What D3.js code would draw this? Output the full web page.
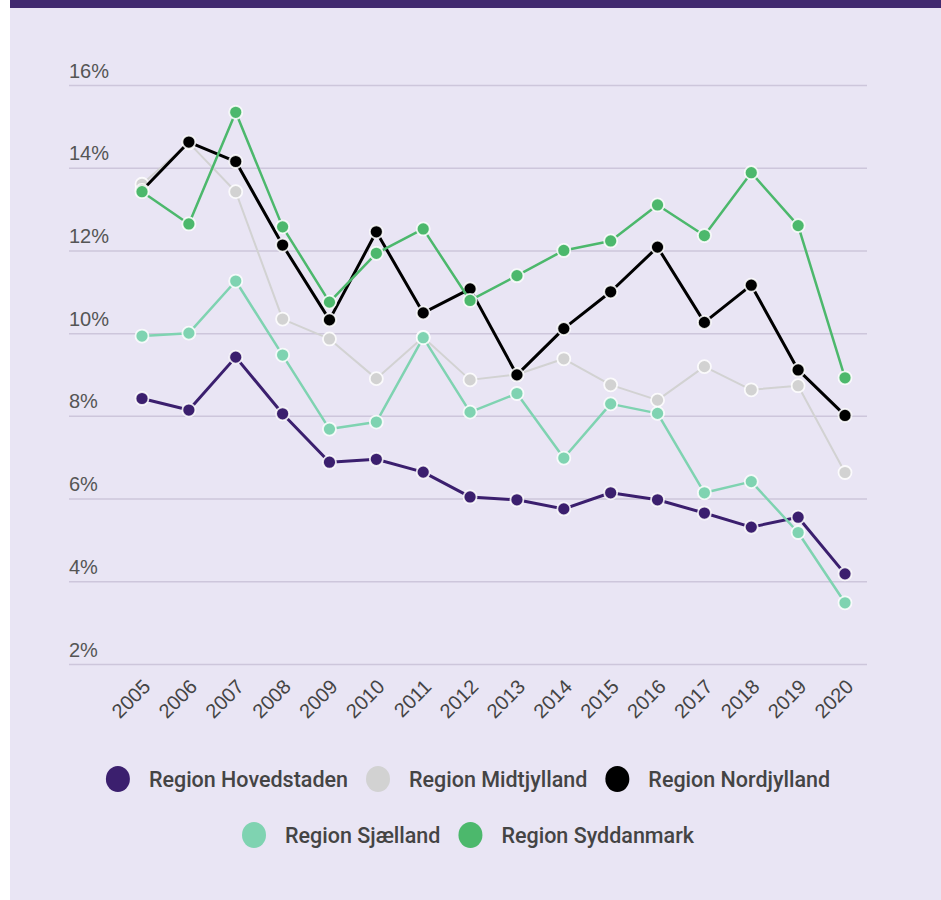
<!DOCTYPE html>
<html>
<head>
<meta charset="utf-8">
<script src="https://cdn.jsdelivr.net/npm/d3@7"></script>
<style>
  body { margin: 0; background: #fff; }
  svg { display: block; font-family: Roboto, "Noto Sans", sans-serif; }
</style>
</head>
<body>
<div id="chart"></div>
<script>
(function regions_line() {

  const years = ["2005", "2006", "2007", "2008", "2009", "2010", "2011", "2012",
    "2013", "2014", "2015", "2016", "2017", "2018", "2019", "2020"];

  const regions = ["Region Hovedstaden", "Region Midtjylland", "Region Nordjylland",
    "Region Sjælland", "Region Syddanmark"];

  const hovedstaden = [8.42, 8.14, 9.42, 8.05, 6.88, 6.95, 6.64, 6.04, 5.97, 5.75, 6.14, 5.97, 5.65, 5.31, 5.55, 4.18];
  const midtjylland = [13.6, 14.6, 13.42, 10.34, 9.86, 8.9, 9.9, 8.87, 9.0, 9.38, 8.75, 8.38, 9.19, 8.63, 8.73, 6.63];
  const nordjylland = [13.45, 14.62, 14.15, 12.13, 10.32, 12.45, 10.49, 11.07, 8.99, 10.11, 11.0, 12.08, 10.26, 11.16, 9.11, 8.01];
  const sjaelland = [9.93, 10.0, 11.26, 9.47, 7.68, 7.85, 9.89, 8.09, 8.54, 6.98, 8.29, 8.06, 6.14, 6.41, 5.18, 3.48];
  const syddanmark = [13.42, 12.64, 15.34, 12.57, 10.75, 11.93, 12.52, 10.79, 11.39, 12.0, 12.23, 13.1, 12.36, 13.88, 12.6, 8.92];

  const yTicks = [2, 4, 6, 8, 10, 12, 14, 16];

  const colors = ["#3b1f6e", "#d2d2d2", "#000000", "#7fd3b1", "#4cb86c"];
  const widths = [3, 2, 3, 2.5, 2.5];

  const series = [hovedstaden, midtjylland, nordjylland, sjaelland, syddanmark]
    .map((values, i) => ({
      name: regions[i],
      color: colors[i],
      width: widths[i],
      values: values.map((v, j) => ({ year: years[j], value: v }))
    }));

  const width = 941, height = 900;

  const svg = d3.select("#chart")
    .append("svg")
    .attr("width", width)
    .attr("height", height);

  // background panel + top bar
  svg.append("rect")
    .attr("x", 10).attr("y", 0)
    .attr("width", width - 10).attr("height", height)
    .attr("fill", "#e9e5f4");
  svg.append("rect")
    .attr("x", 10).attr("y", 0)
    .attr("width", width - 10).attr("height", 8)
    .attr("fill", "#41296f");

  const x = d3.scalePoint()
    .domain(years)
    .range([142, 845]);

  const y = d3.scaleLinear()
    .domain([2, 16])
    .range([664, 85]);

  const gridLeft = 69, gridRight = 867;

  // y axis with gridlines
  const yAxis = svg.append("g")
    .attr("transform", `translate(${gridLeft},0)`)
    .call(d3.axisLeft(y)
      .tickValues(yTicks)
      .tickSize(-(gridRight - gridLeft))
      .tickFormat(d => d + "%"));
  yAxis.select(".domain").remove();
  yAxis.selectAll(".tick line")
    .attr("stroke", "#cdc6db")
    .attr("stroke-width", 1.5);
  yAxis.selectAll(".tick text")
    .attr("x", 0)
    .attr("dy", "-0.4em")
    .attr("text-anchor", "start")
    .attr("fill", "#555")
    .style("font-size", "20px")
    .style("font-weight", 500);

  // x axis labels
  const xAxis = svg.append("g")
    .attr("transform", "translate(0,664)")
    .call(d3.axisBottom(x).tickSize(0));
  xAxis.select(".domain").remove();
  xAxis.selectAll(".tick text")
    .attr("y", 0)
    .attr("dy", 0)
    .attr("text-anchor", "end")
    .attr("transform", "translate(9,24) rotate(-45)")
    .attr("fill", "#444")
    .style("font-size", "20px")
    .style("font-weight", 500);

  const line = d3.line()
    .x(d => x(d.year))
    .y(d => y(d.value));

  const g = svg.append("g");

  const groups = g.selectAll("g.series")
    .data(series)
    .join("g")
    .attr("class", "series");

  groups.append("path")
    .attr("fill", "none")
    .attr("stroke", d => d.color)
    .attr("stroke-width", d => d.width)
    .attr("stroke-linejoin", "round")
    .attr("d", d => line(d.values));

  groups.selectAll("circle")
    .data(d => d.values.map(v => ({ ...v, color: d.color })))
    .join("circle")
    .attr("cx", d => x(d.year))
    .attr("cy", d => y(d.value))
    .attr("r", 6.5)
    .attr("fill", d => d.color)
    .attr("stroke", "#fff")
    .attr("stroke-opacity", 0.85)
    .attr("stroke-width", 1.8);

  // legend, two centred rows
  const legendRows = [[0, 1, 2], [3, 4]];
  const legendY = [779, 835];
  const center = 468;

  legendRows.forEach((row, r) => {
    const lg = svg.append("g");
    let cursor = 0;
    row.forEach(i => {
      const item = lg.append("g").attr("transform", `translate(${cursor},0)`);
      item.append("ellipse")
        .attr("cx", 12).attr("cy", 0)
        .attr("rx", 12).attr("ry", 13)
        .attr("fill", colors[i]);
      const t = item.append("text")
        .attr("x", 43)
        .attr("y", 0)
        .attr("dy", "0.35em")
        .attr("fill", "#444")
        .style("font-size", "21.5px")
        .style("font-weight", 500)
        .text(regions[i]);
      cursor += 43 + t.node().getComputedTextLength() + 18;
    });
    const total = cursor - 18;
    lg.attr("transform", `translate(${center - total / 2},${legendY[r]})`);
  });

})();
</script>
</body>
</html>
